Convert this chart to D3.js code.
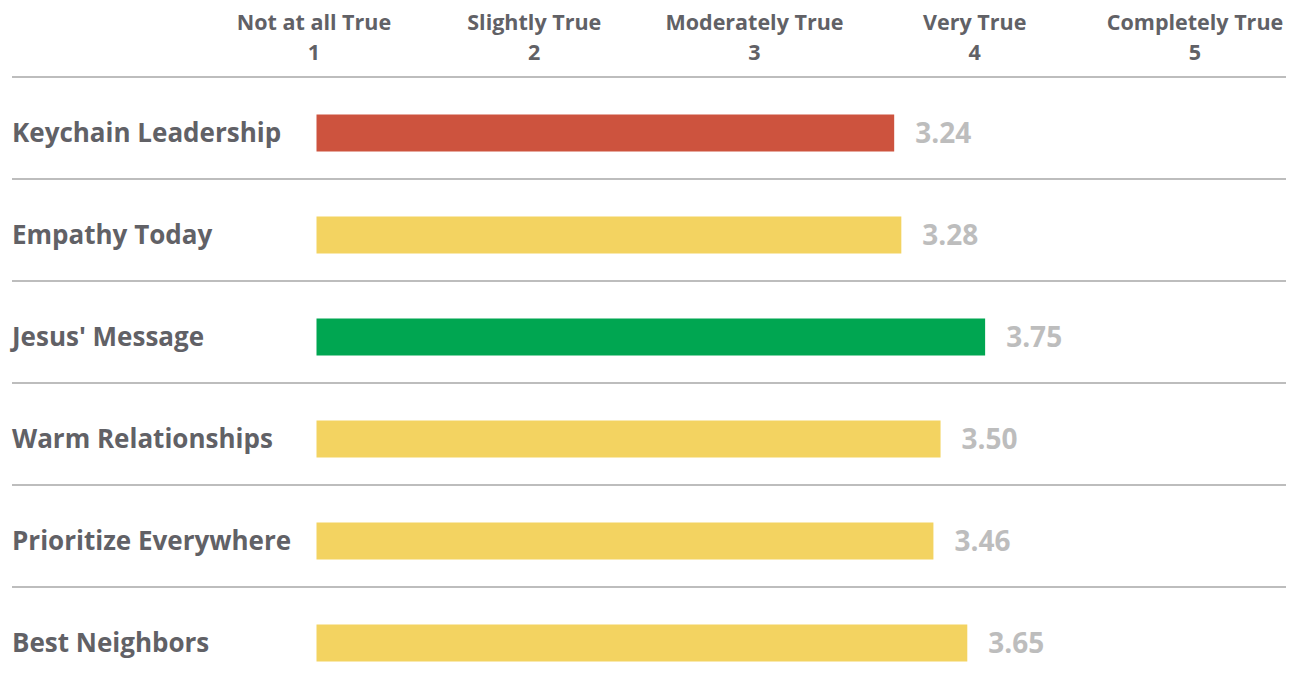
<!DOCTYPE html>
<html>
<head>
<meta charset="utf-8">
<script src="https://cdn.jsdelivr.net/npm/d3@7"></script>
<style>
  body { margin: 0; background: #fff; }
  svg text { font-family: "Open Sans", Lato, sans-serif; font-weight: 700; }
</style>
</head>
<body>
<svg id="chart" width="1298" height="685"></svg>
<script>
const scaleNames = ['Not at all True', 'Slightly True', 'Moderately True', 'Very True', 'Completely True'];
const scaleNumbers = [1, 2, 3, 4, 5];

const categories = ['Keychain Leadership', 'Empathy Today', "Jesus' Message", 'Warm Relationships', 'Prioritize Everywhere', 'Best Neighbors'];
const scores = [3.24, 3.28, 3.75, 3.50, 3.46, 3.65];
const barColors = ['#cd533e', '#f3d361', '#00a651', '#f3d361', '#f3d361', '#f3d361'];

const svg = d3.select('#chart');
const textColor = '#616166';

// header positions (1..5)
var headX = d3.scaleLinear()
  .domain([1, 5])
  .range([314, 1195]);

// bar lengths, from zero
var x = d3.scaleLinear()
  .domain([0, 5])
  .range([316.5, 1208]);

var y = d3.scaleBand()
  .domain(categories)
  .range([78, 690])
  .paddingInner(0)
  .paddingOuter(0);

var head = svg.append('g');
scaleNames.forEach(function(name, i) {
  var t = head.append('text')
    .attr('x', headX(scaleNumbers[i]))
    .attr('text-anchor', 'middle')
    .style('fill', textColor)
    .style('font-size', '21.5px');
  t.append('tspan').attr('x', headX(scaleNumbers[i])).attr('y', 30).text(name);
  t.append('tspan').attr('x', headX(scaleNumbers[i])).attr('y', 60).text(scaleNumbers[i]);
});

// separators
svg.append('g')
  .selectAll('line')
  .data(categories)
  .join('line')
    .attr('x1', 12)
    .attr('x2', 1286)
    .attr('y1', (d) => y(d) - 1)
    .attr('y2', (d) => y(d) - 1)
    .style('stroke', '#bdbdbd')
    .style('stroke-width', 2);

var rows = svg.append('g')
  .selectAll('g')
  .data(categories)
  .join('g')
    .attr('transform', (d) => 'translate(0,' + (y(d) + y.bandwidth() / 2 + 4) + ')');

rows.append('text')
  .attr('x', 12)
  .attr('dy', '0.35em')
  .style('fill', textColor)
  .style('font-size', '26px')
  .text((d) => d);

rows.append('rect')
  .attr('x', x(0))
  .attr('y', -18.5)
  .attr('height', 37)
  .attr('width', (d, i) => x(scores[i]) - x(0))
  .style('fill', (d, i) => barColors[i]);

rows.append('text')
  .attr('x', (d, i) => x(scores[i]) + 21)
  .attr('dy', '0.35em')
  .style('fill', '#bdbdbd')
  .style('font-size', '28px')
  .text((d, i) => scores[i].toFixed(2));
</script>
</body>
</html>
